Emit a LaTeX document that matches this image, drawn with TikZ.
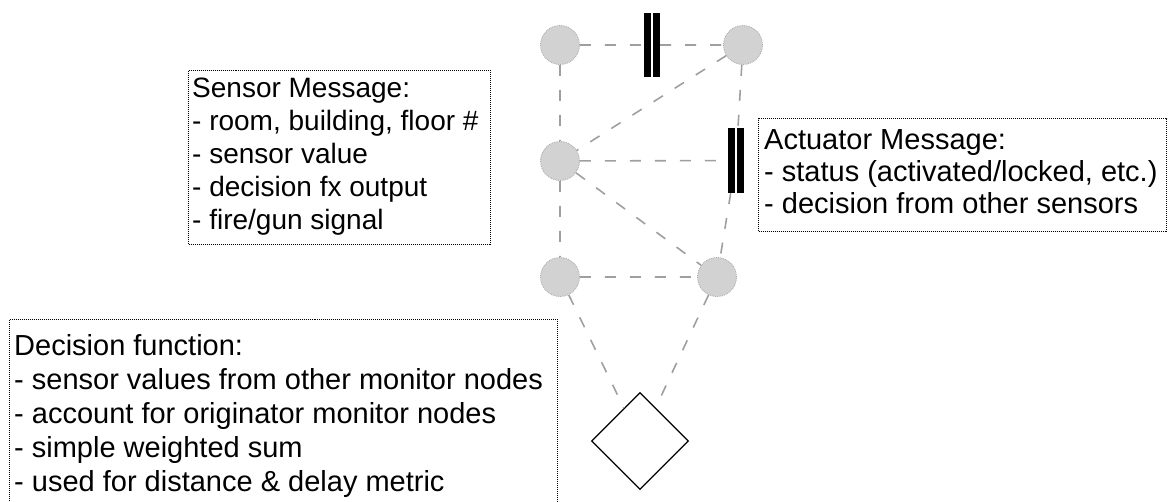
\documentclass[tikz,border=0pt]{standalone}
\usepackage{fontspec}
\setmainfont{Liberation Sans}
\usetikzlibrary{shapes.geometric}
\begin{document}
\begin{tikzpicture}[x=1pt,y=-1pt,
  sensornode/.style={circle, minimum size=39pt, inner sep=0pt, fill=gray!35, draw=gray!70, densely dotted, line width=0.8pt},
  actbar/.style={rectangle, inner sep=0pt, minimum width=16pt, minimum height=64pt, fill=black,
    path picture={\draw[white, line width=1.6pt] (path picture bounding box.north) -- (path picture bounding box.south);}},
  decnode/.style={diamond, draw=black, line width=1.2pt, minimum width=97pt, minimum height=97pt, inner sep=0pt},
  link/.style={draw=gray!75, line width=1.6pt, dash pattern=on 11pt off 14pt},
  msgbox/.style={draw=black, densely dotted, line width=1pt, inner sep=0pt, anchor=north west},
  msgtext/.style={anchor=north west, align=left, inner sep=0pt}
]
\useasboundingbox (0,0) rectangle (1168,501);
% network nodes
\node[sensornode] (A) at (560,45) {};
\node[sensornode] (B) at (743,45) {};
\node[sensornode] (C) at (560,161) {};
\node[sensornode] (D) at (560,277) {};
\node[sensornode] (E) at (717,277) {};
\node[actbar] (T) at (652,45) {};
\node[actbar, minimum height=65pt] (R) at (736,160.5) {};
\node[decnode] (F) at (640,441) {};
% links
\path[link] (A) -- (T) (T) -- (B) (A) -- (C) (B) -- (C) (C) -- (R) (B) -- (R) (R) -- (E)
  (C) -- (E) (C) -- (D) (D) -- (E) (D) -- (F) (E) -- (F);
% sensor message
\node[msgbox, minimum width=302pt, minimum height=174pt] (SB) at (188,70) {};
\node[msgtext, font=\fontsize{28}{33}\selectfont] (ST) at (192,77.5)
  {Sensor Message:\\- room, building, floor \#\\- sensor value\\- decision fx output\\- fire/gun signal};
% actuator message
\node[msgbox, minimum width=408pt, minimum height=113pt] (AB) at (758,118) {};
\node[msgtext, font=\fontsize{29}{32}\selectfont] (AT) at (764,129)
  {Actuator Message:\\- status (activated/locked, etc.)\\- decision from other sensors};
% decision function
\node[msgbox, minimum width=548pt, minimum height=184pt] (DB) at (9,319) {};
\node[msgtext, font=\fontsize{29}{34}\selectfont] (DT) at (14,334)
  {Decision function:\\- sensor values from other monitor nodes\\- account for originator monitor nodes\\- simple weighted sum\\- used for distance \& delay metric};
\end{tikzpicture}
\end{document}
